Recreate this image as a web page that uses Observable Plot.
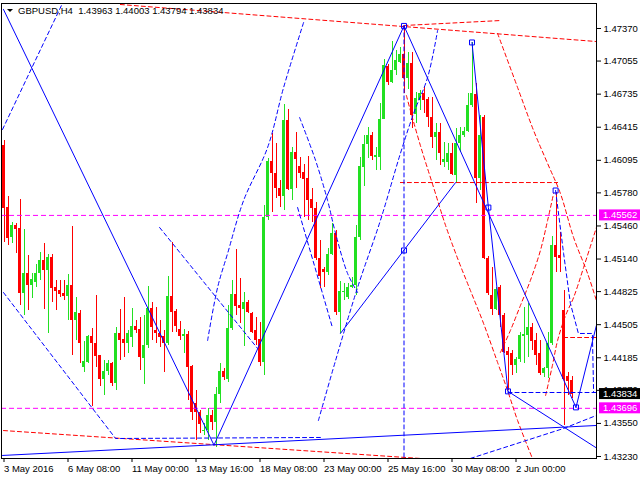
<!DOCTYPE html>
<html><head><meta charset="utf-8">
<script src="https://cdn.jsdelivr.net/npm/d3@7"></script>
<script src="https://cdn.jsdelivr.net/npm/@observablehq/plot@0.6"></script>
<style>
body{margin:0;background:#fff;}
svg{display:block;}
</style></head><body><div id="chart"></div>
<script>
// ---- candle data (GBPUSD H4), bar index = position in arrays ----
const open = [1.46238,1.45639,1.45348,1.45464,1.45435,1.44807,1.45000,1.44884,1.44913,1.45000,
1.45126,1.45029,1.45155,1.44865,1.44836,1.44807,1.44778,1.44884,1.44545,1.44613,
1.44091,1.44139,1.44391,1.44323,1.44207,1.43975,1.44052,1.44130,1.43936,1.44420,
1.44362,1.44323,1.44381,1.44487,1.44458,1.44178,1.44304,1.44662,1.44449,1.44420,
1.44391,1.44323,1.44778,1.44633,1.44458,1.44391,1.44410,1.44101,1.43743,1.43655,
1.43472,1.43481,1.43626,1.43559,1.43830,1.44052,1.43975,1.44468,1.44797,1.44691,
1.44652,1.44720,1.44613,1.44449,1.44362,1.44139,1.45542,1.46083,1.45968,1.45822,
1.45745,1.46480,1.45813,1.46170,1.46035,1.45977,1.45919,1.45716,1.45629,1.45145,
1.45039,1.45010,1.45184,1.45387,1.44623,1.44816,1.44768,1.44865,1.44884,1.45348,
1.46025,1.46248,1.46335,1.46122,1.46122,1.46490,1.47003,1.46848,1.46964,1.47041,
1.47118,1.46886,1.47031,1.46538,1.46674,1.46741,1.46683,1.46509,1.46316,1.46364,
1.46074,1.46074,1.46161,1.45948,1.46258,1.46335,1.46374,1.46625,1.46732,1.45919,
1.46509,1.45145,1.44788,1.44652,1.44865,1.44594,1.44246,1.44226,1.44110,1.44168,
1.44391,1.44400,1.44478,1.44352,1.44226,1.44033,1.44081,1.44323,1.45271,1.45174,
1.44642,1.44004,1.43963];
const high = [1.46287,1.45745,1.45493,1.45483,1.45716,1.45426,1.45174,1.45000,1.45087,1.45203,
1.45290,1.45184,1.45184,1.44932,1.44932,1.44932,1.44990,1.45455,1.44768,1.44642,
1.44342,1.44400,1.44468,1.44788,1.44207,1.44159,1.44159,1.44139,1.44478,1.44652,
1.44768,1.44449,1.44662,1.44545,1.44575,1.44594,1.44874,1.44720,1.44671,1.44545,
1.44449,1.44971,1.45300,1.44652,1.44536,1.44458,1.44439,1.44110,1.43868,1.43675,
1.43549,1.43694,1.43675,1.43897,1.44130,1.44081,1.44691,1.44932,1.45232,1.44952,
1.44816,1.44739,1.44623,1.44575,1.44526,1.45658,1.46112,1.46354,1.46257,1.45900,
1.46635,1.46587,1.46219,1.46364,1.46122,1.46054,1.46132,1.45822,1.45687,1.45319,
1.45058,1.45242,1.45483,1.45416,1.44923,1.44903,1.44903,1.44961,1.45464,1.46122,
1.46335,1.46412,1.46364,1.46219,1.46644,1.47070,1.47022,1.47244,1.47157,1.47186,
1.47390,1.47138,1.47138,1.46751,1.46770,1.46799,1.46703,1.46703,1.46451,1.46451,
1.46268,1.46258,1.46258,1.46403,1.46412,1.46412,1.46741,1.47235,1.46838,1.46529,
1.46529,1.45164,1.45058,1.44865,1.44884,1.44613,1.44284,1.44255,1.44188,1.44429,
1.44671,1.44710,1.44516,1.44420,1.44352,1.44091,1.44429,1.45358,1.45784,1.45397,
1.44836,1.44042,1.44003];
const low = [1.45300,1.45271,1.45290,1.45194,1.44691,1.44594,1.44642,1.44758,1.44865,1.44932,
1.44652,1.44420,1.44720,1.44642,1.44768,1.44739,1.44545,1.44207,1.44352,1.44130,
1.44042,1.44130,1.43714,1.44091,1.43907,1.43820,1.44013,1.43907,1.43868,1.44159,
1.44188,1.44226,1.44284,1.44420,1.44062,1.43926,1.44275,1.44352,1.44323,1.44284,
1.44042,1.44304,1.44429,1.44429,1.44352,1.44226,1.43772,1.43578,1.43385,1.43452,
1.43433,1.43385,1.43481,1.43317,1.43743,1.43965,1.43946,1.44449,1.44594,1.44516,
1.44294,1.44613,1.44420,1.44304,1.44101,1.44013,1.45513,1.45591,1.45725,1.45639,
1.45610,1.45803,1.45706,1.45822,1.45919,1.45542,1.45513,1.45493,1.45126,1.44855,
1.44865,1.44981,1.45174,1.44594,1.44420,1.44739,1.44749,1.44855,1.44788,1.45319,
1.45842,1.46113,1.46093,1.45996,1.45996,1.46490,1.46819,1.46838,1.46915,1.47031,
1.46741,1.46780,1.46403,1.46451,1.46577,1.46548,1.46412,1.46209,1.46093,1.46045,
1.46025,1.45996,1.45948,1.45871,1.46170,1.46316,1.46364,1.46606,1.45677,1.45803,
1.45136,1.44788,1.44594,1.44642,1.44478,1.44226,1.43868,1.44013,1.44033,1.44139,
1.44130,1.44188,1.44255,1.44110,1.44013,1.43994,1.43984,1.44304,1.45010,1.45010,
1.43530,1.43820,1.43794];
const close = [1.45629,1.45339,1.45464,1.45426,1.44807,1.45000,1.44884,1.44942,1.45000,1.45126,
1.45029,1.45155,1.44855,1.44826,1.44797,1.44778,1.44884,1.44545,1.44623,1.44323,
1.44149,1.44391,1.44323,1.44197,1.43975,1.44052,1.44130,1.43936,1.44420,1.44352,
1.44323,1.44420,1.44487,1.44449,1.44188,1.44304,1.44662,1.44478,1.44420,1.44381,
1.44323,1.44778,1.44623,1.44487,1.44391,1.44410,1.44091,1.43655,1.43655,1.43539,
1.43481,1.43626,1.43559,1.43830,1.44052,1.43994,1.44468,1.44797,1.44681,1.44662,
1.44720,1.44623,1.44429,1.44352,1.44139,1.45542,1.46083,1.45968,1.45822,1.45745,
1.46480,1.45813,1.46170,1.46103,1.45968,1.45910,1.45706,1.45629,1.45145,1.44971,
1.45010,1.45184,1.45387,1.44623,1.44826,1.44826,1.44865,1.44884,1.45348,1.46035,
1.46248,1.46335,1.46132,1.46142,1.46490,1.47012,1.46848,1.46964,1.47060,1.47118,
1.46886,1.47031,1.46529,1.46693,1.46741,1.46674,1.46509,1.46316,1.46364,1.46161,
1.46103,1.46161,1.45958,1.46258,1.46335,1.46374,1.46625,1.46741,1.45919,1.46335,
1.45145,1.44807,1.44652,1.44845,1.44594,1.44236,1.44207,1.44110,1.44168,1.44400,
1.44410,1.44478,1.44342,1.44207,1.44033,1.44081,1.44323,1.45271,1.45155,1.45145,
1.43975,1.43955,1.43834];

// ---- axis ticks ----
const xTicks = [0,16,32,48,64,80,96,112,128];
const xLabels = ["3 May 2016","6 May 08:00","11 May 00:00","13 May 16:00","18 May 08:00","23 May 00:00","25 May 16:00","30 May 08:00","2 Jun 00:00"];
const yTicks = [1.47370,1.47055,1.46735,1.46415,1.46095,1.45780,1.45460,1.45140,1.44825,1.44505,1.44185,1.43870,1.43550,1.43230];
const title = "GBPUSD,H4\u00a0\u00a01.43963 1.44003 1.43794 1.43834";

// ---- levels (price) ----
const levelsMagenta = [1.45562, 1.43696];
const lastPrice = 1.43834;

// ---- drawn objects: [bar index, price] ----
const solid1 = [[-0.125,1.47554],[52.5,1.43340]];
const solid2 = [[52.5,1.43340],[100,1.47395]];
const solid3 = [[100,1.47395],[143,1.43705]];
const solid4 = [[117,1.47235],[121.1,1.45638],[126,1.43860]];
const solid5 = [[126,1.43860],[148.1,1.43313]];
const solid6 = [[143,1.43705],[148.1,1.44497]];
const solid7 = [[84.1,1.44420],[112.9,1.45880]];
const solid8 = [[-0.375,1.43240],[148.1,1.43530]];
const squares = [[100,1.47395],[117,1.47235],[121.1,1.45638],[126,1.43860],[143,1.43705],[137.9,1.45803],[100,1.45223]];

const dashB1 = [[100,1.47395],[100,1.43211]];
const dashB2 = [[-0.375,1.46393],[14.6,1.47612]];
const dashB3 = [[-0.125,1.44816],[27.9,1.43404],[79.1,1.43414]];
const dashB4 = [[38.9,1.45445],[63.4,1.44275]];
const dashB7 = [[78.6,1.43578],[82.9,1.44159],[88.4,1.44865],[94.1,1.45513],[99.1,1.46161],[102.4,1.46548],[105.9,1.46896],[108.4,1.47351]];
const dashB8 = [[50.9,1.44352],[53.4,1.44865],[55.9,1.45194],[59.9,1.45706],[65.9,1.46219],[69.9,1.46799],[74.9,1.47428]];
const dashB9 = [[73.9,1.46509],[77.9,1.46093],[80.9,1.45706],[82.9,1.45387],[85.9,1.45000],[88.4,1.44816]];
const dashB10 = [[73.4,1.45638],[82.1,1.44478]];
const dashB11 = [[137.9,1.45803],[139.9,1.45194],[141.6,1.44710],[143.6,1.44420],[147.1,1.44420],[147.4,1.43849]];
const dashB12 = [[126,1.43849],[148.1,1.43849]];
const dashB13 = [[116.6,1.43211],[139.9,1.43501],[148.1,1.43627]];

const dashR1 = [[29.1,1.47602],[148.1,1.47244]];
const dashR2 = [[100,1.47399],[124.1,1.47447]];
const dashR3 = [[100.6,1.46722],[101.6,1.46577],[104.1,1.46238],[107.4,1.45832],[110.4,1.45464],[113.6,1.45126],[116.6,1.44836],[119.9,1.44516],[123.4,1.44139],[125.9,1.43868],[128.4,1.43578],[132.1,1.43211]];
const dashR4 = [[123.4,1.47322],[128.4,1.46799],[132.4,1.46383],[135.9,1.46064],[139.1,1.45774],[142.4,1.45348],[145.9,1.45000],[148.1,1.44739]];
const dashR5 = [[99.1,1.45880],[138.4,1.45880]];
const dashR6 = [[139.9,1.44381],[148.1,1.44381]];
const dashR7 = [[124.1,1.44236],[126.6,1.44449],[129.1,1.44690],[131.6,1.44933],[134.1,1.45222],[135.9,1.45513],[137.4,1.45774]];
const dashR8 = [[135.4,1.43820],[137.1,1.44110],[138.4,1.44352],[140.4,1.44594],[142.4,1.44768],[144.9,1.45058],[148.1,1.45445]];
const dashR9 = [[-0.125,1.43481],[104.1,1.43211]];

// ---- build ----
const bars = open.map((o,i)=>({i, open:o, high:high[i], low:low[i], close:close[i]}));
const GREEN="#22e022", RED="#ff0000", BLUE="#0000ff", MAG="#ff00ff";
const X0=-0.625, X1=148.125;
const col = d => d.close >= d.open ? GREEN : RED;

const solidLines = [solid1,solid2,solid3,solid4,solid5,solid6,solid7,solid8];
const blueDashed = [dashB1,dashB2,dashB3,dashB4,dashB7,dashB8,dashB9,dashB10,dashB11,dashB12,dashB13];
const redDashed = [dashR1,dashR2,dashR3,dashR4,dashR5,dashR6,dashR7,dashR8,dashR9];
const curvy = new Set([dashB7,dashB8,dashB9,dashR3,dashR4,dashR7,dashR8]);

const marks = [
  Plot.axisX({ticks:xTicks, tickFormat:d=>xLabels[xTicks.indexOf(d)], textAnchor:"start", tickSize:4, tickPadding:3, label:null}),
  Plot.axisY({anchor:"right", ticks:yTicks, tickFormat:d=>d.toFixed(5), tickSize:4, tickPadding:3, label:null}),
  Plot.ruleX(bars, {x:"i", y1:"low", y2:"high", stroke:col, strokeWidth:1, shapeRendering:"crispEdges"}),
  Plot.rect(bars, {x1:d=>d.i-0.375, x2:d=>d.i+0.375, y1:"open", y2:"close", fill:col, shapeRendering:"crispEdges"}),
  ...levelsMagenta.map(v => Plot.ruleY([v], {stroke:MAG, strokeDasharray:"5,3", strokeWidth:1})),
  ...redDashed.map(p => Plot.line(p, {stroke:RED, strokeDasharray:"4,3", strokeWidth:1, clip:true, curve: curvy.has(p) ? "catmull-rom" : "linear"})),
  ...blueDashed.map(p => Plot.line(p, {stroke:BLUE, strokeDasharray:"4,3", strokeWidth:1, clip:true, curve: curvy.has(p) ? "catmull-rom" : "linear"})),
  ...solidLines.map(p => Plot.line(p, {stroke:BLUE, strokeWidth:1, clip:true})),
  Plot.dot(squares, {symbol:"square", r:2.8, stroke:BLUE, fill:"none", strokeWidth:1}),
  Plot.frame({stroke:"#000"})
];

const chart = Plot.plot({
  width:640, height:480,
  marginLeft:1, marginRight:44, marginTop:3, marginBottom:22,
  x:{type:"linear", domain:[X0,X1]},
  y:{type:"linear", domain:[1.432106,1.476118]},
  style:{fontFamily:"'Liberation Sans', Arial, sans-serif", fontSize:"9.5px", color:"#000", background:"#fff", overflow:"visible"},
  marks
});

// price tags on the right axis
const ys = chart.scale("y");
const svg = d3.select(chart);
function tag(v, bg){
  const py = ys.apply(v);
  svg.append("rect").attr("x",599).attr("y",py-5.5).attr("width",41).attr("height",11).attr("fill",bg);
  svg.append("text").attr("x",603).attr("y",py).attr("dy","0.35em").attr("text-anchor","start")
     .attr("fill","#fff").attr("font-size","9.5px").text(v.toFixed(5));
}
tag(levelsMagenta[0], MAG);
tag(lastPrice, "#000");
tag(levelsMagenta[1], MAG);

// title inside chart
svg.append("path").attr("d","M7,9L13,9L10,12Z").attr("fill","#000");
svg.append("text").attr("x",18).attr("y",14).attr("text-anchor","start").attr("fill","#000")
   .attr("font-size","9.5px").text(title);

document.getElementById("chart").appendChild(chart);
</script></body></html>
